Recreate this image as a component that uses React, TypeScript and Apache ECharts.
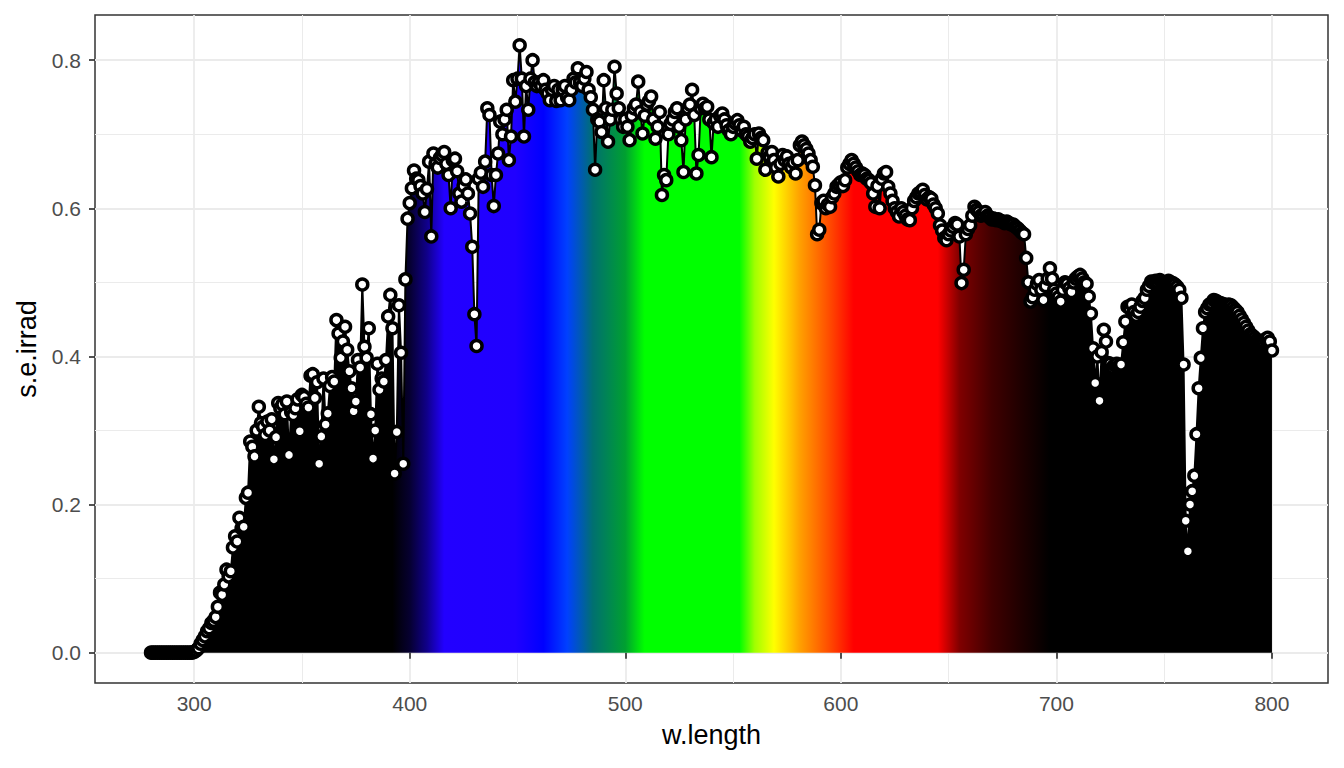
import React, { useEffect, useRef } from "react";
import * as echarts from "echarts";

// Spectral irradiance (s.e.irrad), 1 nm steps
const irrad280 = [
  0, 0, 0, 0, 0, 0, 0, 0, 0, 0,
  0, 0, 0, 0, 0, 0, 0, 0, 0, 0,
];
const irrad300 = [
  0.001, 0.003, 0.006, 0.012, 0.017, 0.022, 0.029, 0.033, 0.040, 0.043,
  0.048, 0.062, 0.081, 0.078, 0.092, 0.112, 0.103, 0.110, 0.142, 0.157,
  0.150, 0.182, 0.168, 0.170, 0.209, 0.216, 0.285, 0.278, 0.265, 0.300,
  0.332, 0.310, 0.305, 0.294, 0.312, 0.300, 0.315, 0.261, 0.291, 0.337,
  0.330, 0.335, 0.322, 0.339, 0.267, 0.325, 0.321, 0.330, 0.342, 0.299,
  0.348, 0.345, 0.336, 0.331, 0.374, 0.376, 0.344, 0.365, 0.255, 0.292,
  0.370, 0.308, 0.323, 0.360, 0.372, 0.366, 0.449, 0.431, 0.398, 0.420,
  0.440, 0.409, 0.380, 0.357, 0.326, 0.339, 0.395, 0.385, 0.497, 0.413,
  0.398, 0.438, 0.322, 0.262, 0.300, 0.390, 0.355, 0.370, 0.366, 0.395,
  0.454, 0.483, 0.438, 0.242, 0.298, 0.469, 0.405, 0.255, 0.504, 0.586,
];
const irrad400 = [
  0.607, 0.627, 0.651, 0.640, 0.638, 0.630, 0.620, 0.595, 0.626, 0.663,
  0.562, 0.674, 0.660, 0.655, 0.668, 0.672, 0.676, 0.660, 0.645, 0.600,
  0.665, 0.667, 0.650, 0.620, 0.609, 0.630, 0.639, 0.620, 0.593, 0.548,
  0.457, 0.414, 0.640, 0.648, 0.629, 0.663, 0.735, 0.726, 0.645, 0.603,
  0.645, 0.674, 0.717, 0.700, 0.720, 0.733, 0.665, 0.697, 0.773, 0.744,
  0.775, 0.820, 0.775, 0.697, 0.765, 0.733, 0.775, 0.800, 0.770, 0.765,
  0.770, 0.765, 0.773, 0.760, 0.755, 0.746, 0.760, 0.765, 0.745, 0.760,
  0.746, 0.760, 0.765, 0.750, 0.746, 0.760, 0.775, 0.770, 0.789, 0.770,
  0.765, 0.775, 0.784, 0.760, 0.750, 0.733, 0.652, 0.720, 0.717, 0.703,
  0.773, 0.735, 0.690, 0.720, 0.733, 0.791, 0.755, 0.735, 0.720, 0.710,
];
const irrad500 = [
  0.720, 0.710, 0.692, 0.725, 0.735, 0.740, 0.771, 0.730, 0.701, 0.725,
  0.740, 0.745, 0.751, 0.720, 0.694, 0.710, 0.730, 0.618, 0.645, 0.638,
  0.700, 0.714, 0.720, 0.730, 0.735, 0.710, 0.692, 0.649, 0.720, 0.735,
  0.740, 0.760, 0.726, 0.647, 0.672, 0.735, 0.741, 0.735, 0.737, 0.720,
  0.669, 0.715, 0.720, 0.710, 0.725, 0.728, 0.720, 0.712, 0.705, 0.700,
  0.710, 0.715, 0.719, 0.712, 0.705, 0.710, 0.700, 0.697, 0.690, 0.695,
  0.700, 0.667, 0.701, 0.695, 0.692, 0.652, 0.675, 0.670, 0.676, 0.665,
  0.655, 0.643, 0.660, 0.672, 0.665, 0.670, 0.660, 0.655, 0.662, 0.647,
  0.665, 0.685, 0.690, 0.685, 0.680, 0.674, 0.665, 0.656, 0.631, 0.565,
  0.571, 0.607, 0.610, 0.600, 0.605, 0.602, 0.615, 0.620, 0.629, 0.632,
];
const irrad600 = [
  0.635, 0.630, 0.638, 0.655, 0.660, 0.665, 0.660, 0.655, 0.650, 0.645,
  0.647, 0.645, 0.640, 0.638, 0.634, 0.620, 0.602, 0.630, 0.600, 0.640,
  0.647, 0.649, 0.629, 0.620, 0.610, 0.600, 0.595, 0.589, 0.600, 0.595,
  0.590, 0.585, 0.584, 0.600, 0.610, 0.615, 0.620, 0.622, 0.625, 0.618,
  0.612, 0.615, 0.613, 0.605, 0.600, 0.593, 0.577, 0.570, 0.560, 0.557,
  0.565, 0.570, 0.575, 0.580, 0.578, 0.562, 0.499, 0.517, 0.565, 0.572,
  0.577, 0.590, 0.602, 0.598, 0.595, 0.590, 0.592, 0.595, 0.590, 0.588,
  0.585, 0.586, 0.584, 0.585, 0.583, 0.582, 0.580, 0.582, 0.580, 0.578,
  0.578, 0.575, 0.573, 0.570, 0.567, 0.565, 0.533, 0.500, 0.474, 0.480,
  0.490, 0.498, 0.503, 0.490, 0.476, 0.495, 0.505, 0.519, 0.505, 0.490,
];
const irrad700 = [
  0.485, 0.480, 0.474, 0.490, 0.500, 0.498, 0.492, 0.487, 0.500, 0.505,
  0.508, 0.510, 0.505, 0.500, 0.498, 0.481, 0.458, 0.411, 0.364, 0.400,
  0.340, 0.406, 0.436, 0.420, 0.391, 0.390, 0.385, 0.388, 0.390, 0.387,
  0.389, 0.419, 0.447, 0.467, 0.465, 0.470, 0.460, 0.455, 0.460, 0.467,
  0.475, 0.479, 0.490, 0.495, 0.501, 0.500, 0.502, 0.500, 0.503, 0.500,
  0.498, 0.500, 0.502, 0.500, 0.499, 0.497, 0.494, 0.490, 0.479, 0.389,
  0.178, 0.137, 0.200, 0.218, 0.239, 0.295, 0.357, 0.398, 0.438, 0.460,
  0.465, 0.470, 0.472, 0.476, 0.475, 0.473, 0.472, 0.471, 0.470, 0.468,
  0.470, 0.469, 0.466, 0.463, 0.460, 0.455, 0.450, 0.445, 0.440, 0.435,
  0.430, 0.428, 0.425, 0.422, 0.420, 0.418, 0.420, 0.423, 0.425, 0.420,
  0.408,
];

const chunkStartWl = [280, 300, 400, 500, 600, 700];
const chunkValues = [irrad280, irrad300, irrad400, irrad500, irrad600, irrad700];

// Axis ticks
const xMajorTicks = [300, 400, 500, 600, 700, 800];
const xMinorTicks = [350, 450, 550, 650, 750];
const yMajorTicks = [0, 0.2, 0.4, 0.6, 0.8];
const yMinorTicks = [0.1, 0.3, 0.5, 0.7];

// Wavelength-to-colour stops for the fill
const colorStopWl = [280, 392, 400, 408, 416, 449, 462, 473, 485, 500, 509, 553, 560, 569, 581, 594, 606, 645, 655, 670, 683, 697, 800];
const colorStopHex = [
  "#000000", "#000000", "#060030", "#10008a", "#2200ff", "#2000ff", "#0000ff", "#0040ff",
  "#007070", "#00a030", "#00ff00", "#00ff00", "#a0ff00", "#ffff00", "#ffa000", "#ff5000",
  "#ff0000", "#ff0000", "#800000", "#400000", "#200000", "#000000", "#000000",
];

const FONT = "'Liberation Sans', Arial, sans-serif";

export default function App() {
  const ref = useRef<HTMLDivElement>(null);

  useEffect(() => {
    if (!ref.current) return;
    const chart = echarts.init(ref.current, null, { renderer: "svg" });

    const data: number[][] = [];
    chunkValues.forEach((arr, k) => {
      arr.forEach((v, i) => data.push([chunkStartWl[k] + i, v]));
    });
    const wMin = data[0][0];
    const wMax = data[data.length - 1][0];

    const fill = new echarts.graphic.LinearGradient(
      0, 0, 1, 0,
      colorStopWl.map((w, i) => ({
        offset: Math.min(1, Math.max(0, (w - wMin) / (wMax - wMin))),
        color: colorStopHex[i],
      }))
    );

    const gridLine = (color: string, width: number) => ({
      color, width, type: "solid" as const,
    });

    chart.setOption({
      animation: false,
      backgroundColor: "#ffffff",
      grid: {
        left: 95,
        right: 16,
        top: 15,
        bottom: 85,
        show: true,
        borderColor: "#333333",
        borderWidth: 1.5,
        backgroundColor: "transparent",
      },
      xAxis: {
        type: "value",
        min: 254,
        max: 826,
        name: "w.length",
        nameLocation: "middle",
        nameGap: 38,
        nameTextStyle: { color: "#000000", fontSize: 27, fontFamily: FONT },
        axisLine: { show: false },
        splitLine: { show: false },
        axisTick: {
          show: true,
          customValues: xMajorTicks,
          length: 6,
          lineStyle: { color: "#333333", width: 1.7 },
        },
        axisLabel: {
          customValues: xMajorTicks,
          margin: 10,
          color: "#4D4D4D",
          fontSize: 21,
          fontFamily: FONT,
          formatter: (v: number) => String(v),
        },
      },
      yAxis: {
        type: "value",
        min: -0.041,
        max: 0.861,
        name: "s.e.irrad",
        nameLocation: "middle",
        nameGap: 50,
        nameTextStyle: { color: "#000000", fontSize: 27, fontFamily: FONT },
        axisLine: { show: false },
        splitLine: { show: false },
        axisTick: {
          show: true,
          customValues: yMajorTicks,
          length: 6,
          lineStyle: { color: "#333333", width: 1.7 },
        },
        axisLabel: {
          customValues: yMajorTicks,
          margin: 14,
          color: "#4D4D4D",
          fontSize: 21,
          fontFamily: FONT,
          formatter: (v: number) => v.toFixed(1),
        },
      },
      series: [
        {
          type: "line",
          data: [],
          silent: true,
          z: 0,
          markLine: {
            silent: true,
            z: 0,
            animation: false,
            symbol: ["none", "none"],
            label: { show: false },
            emphasis: { disabled: true },
            data: [
              ...xMinorTicks.map((v) => ({ xAxis: v, lineStyle: gridLine("#EBEBEB", 1) })),
              ...yMinorTicks.map((v) => ({ yAxis: v, lineStyle: gridLine("#EBEBEB", 1) })),
              ...xMajorTicks.map((v) => ({ xAxis: v, lineStyle: gridLine("#EBEBEB", 1.8) })),
              ...yMajorTicks.map((v) => ({ yAxis: v, lineStyle: gridLine("#EBEBEB", 1.8) })),
            ],
          },
        },
        {
          type: "line",
          data,
          z: 2,
          smooth: false,
          showSymbol: true,
          showAllSymbol: true,
          symbol: "circle",
          symbolSize: 11,
          clip: true,
          lineStyle: { color: "#000000", width: 2 },
          itemStyle: { color: "#ffffff", borderColor: "#000000", borderWidth: 3.5 },
          areaStyle: { color: fill, opacity: 1 },
          emphasis: { disabled: true },
        },
      ],
    });

    return () => chart.dispose();
  }, []);

  return (
    <div
      ref={ref}
      style={{ position: "fixed", left: 0, top: 0, width: 1344, height: 768, background: "#fff" }}
    />
  );
}
